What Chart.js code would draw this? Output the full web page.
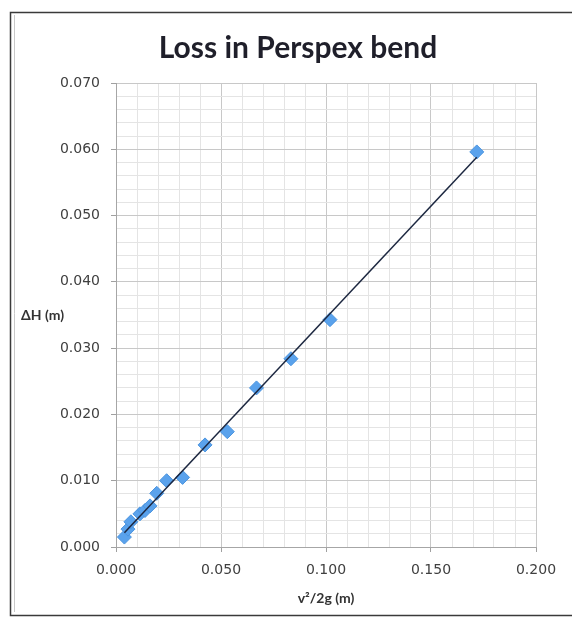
<!DOCTYPE html>
<html>
<head>
<meta charset="utf-8">
<script src="https://cdn.jsdelivr.net/npm/chart.js@4.4.0/dist/chart.umd.min.js"></script>
<style>
  html, body { margin: 0; padding: 0; background: #ffffff; }
  #wrap { width: 572px; height: 617px; position: relative; }
</style>
</head>
<body>
<div id="wrap"><canvas id="c" width="572" height="617"></canvas></div>
<script>
// Measured velocity head v²/2g (m) and head loss ΔH (m) across the bend
const velocityHead = [0.0040, 0.0057, 0.0071, 0.0114, 0.0138, 0.0162, 0.0194, 0.0241, 0.0317, 0.0424, 0.0530, 0.0669, 0.0833, 0.1019, 0.1718];
const headLoss     = [0.0015, 0.0027, 0.0038, 0.0050, 0.0055, 0.0062, 0.0081, 0.0100, 0.0105, 0.0154, 0.0174, 0.0240, 0.0284, 0.0343, 0.0596];

// Axis ranges and labelled tick values
const xTickLabels = [0.000, 0.050, 0.100, 0.150, 0.200];
const yTickLabels = [0.000, 0.010, 0.020, 0.030, 0.040, 0.050, 0.060, 0.070];
const xMinorStep = 0.010;
const yMinorStep = 0.002;

const chartTitle = 'Loss in Perspex bend';
const xTitle = 'v\u00B2/2g (m)';
const yTitle = '\u0394H (m)';

// Least-squares linear trendline over the measured points
function linearFit(xs, ys) {
  const n = xs.length;
  let sx = 0, sy = 0, sxx = 0, sxy = 0;
  for (let i = 0; i < n; i++) {
    sx += xs[i]; sy += ys[i]; sxx += xs[i] * xs[i]; sxy += xs[i] * ys[i];
  }
  const slope = (n * sxy - sx * sy) / (n * sxx - sx * sx);
  const intercept = (sy - slope * sx) / n;
  return { slope, intercept };
}
const fit = linearFit(velocityHead, headLoss);
const xLo = Math.min(...velocityHead), xHi = Math.max(...velocityHead);
const trendPoints = [
  { x: xLo, y: fit.slope * xLo + fit.intercept },
  { x: xHi, y: fit.slope * xHi + fit.intercept }
];

const isLabelled = (v, list) => list.some(t => Math.abs(t - v) < 1e-7);

// Frame, chart title and horizontal y-axis title
const decorations = {
  id: 'decorations',
  beforeDraw(chart) {
    const ctx = chart.ctx;
    ctx.save();
    ctx.fillStyle = '#ffffff';
    ctx.fillRect(0, 0, chart.width, chart.height);
    ctx.strokeStyle = '#3a3a3a';
    ctx.lineWidth = 1.5;
    ctx.strokeRect(10.5, 12.5, 620, 603);
    ctx.strokeStyle = '#c8c8c8';
    ctx.lineWidth = 1;
    ctx.beginPath();
    ctx.moveTo(14.5, 15); ctx.lineTo(14.5, 612);
    ctx.stroke();
    ctx.restore();
  },
  afterDraw(chart) {
    const ctx = chart.ctx;
    ctx.save();
    ctx.fillStyle = '#1f1f2a';
    ctx.font = 'bold 30px Lato';
    ctx.textAlign = 'center';
    ctx.textBaseline = 'middle';
    ctx.fillText(chartTitle, 298, 48);
    ctx.font = 'bold 14px Lato';
    ctx.fillStyle = '#333333';
    ctx.textAlign = 'left';
    ctx.fillText(yTitle, 21, 315);
    ctx.restore();
  }
};

new Chart(document.getElementById('c'), {
  data: {
    datasets: [
      {
        type: 'line',
        data: trendPoints,
        borderColor: '#1c2740',
        borderWidth: 1.5,
        pointRadius: 0,
        fill: false,
        order: 0
      },
      {
        type: 'scatter',
        data: velocityHead.map((x, i) => ({ x, y: headLoss[i] })),
        pointStyle: 'rectRot',
        pointRadius: 7,
        pointHoverRadius: 7,
        backgroundColor: '#5aa2ec',
        borderColor: '#4a94e0',
        borderWidth: 1,
        order: 1
      }
    ]
  },
  options: {
    responsive: false,
    animation: false,
    devicePixelRatio: 1,
    layout: { padding: { top: 83, right: 36, bottom: 0, left: 0 } },
    plugins: {
      legend: { display: false },
      tooltip: { enabled: false },
      title: { display: false }
    },
    scales: {
      x: {
        type: 'linear',
        min: xTickLabels[0],
        max: xTickLabels[xTickLabels.length - 1],
        afterFit(scale) { scale.height = 70; },
        ticks: {
          stepSize: xMinorStep,
          autoSkip: false,
          maxRotation: 0,
          minRotation: 0,
          padding: 10,
          color: '#404040',
          font: { family: 'DejaVu Sans', size: 14 },
          callback: v => isLabelled(v, xTickLabels) ? v.toFixed(3) : ''
        },
        grid: {
          color: c => isLabelled(c.tick.value, xTickLabels) ? '#c8c8c8' : '#e4e4e4',
          tickColor: c => isLabelled(c.tick.value, xTickLabels) ? '#a0a0a0' : 'rgba(0,0,0,0)',
          tickLength: 5,
          lineWidth: 1
        },
        border: { color: '#a6a6a6', width: 1 },
        title: {
          display: true,
          text: xTitle,
          color: '#333333',
          font: { family: 'Lato', size: 14, weight: 'bold' },
          padding: { top: 0, bottom: 10 }
        }
      },
      y: {
        type: 'linear',
        min: yTickLabels[0],
        max: yTickLabels[yTickLabels.length - 1],
        afterFit(scale) { scale.width = 116; },
        ticks: {
          stepSize: yMinorStep,
          autoSkip: false,
          padding: 11,
          color: '#404040',
          font: { family: 'DejaVu Sans', size: 14 },
          callback: v => isLabelled(v, yTickLabels) ? v.toFixed(3) : ''
        },
        grid: {
          color: c => isLabelled(c.tick.value, yTickLabels) ? '#c8c8c8' : '#e4e4e4',
          tickColor: c => isLabelled(c.tick.value, yTickLabels) ? '#a0a0a0' : 'rgba(0,0,0,0)',
          tickLength: 5,
          lineWidth: 1
        },
        border: { color: '#a6a6a6', width: 1 }
      }
    }
  },
  plugins: [decorations]
});
</script>
</body>
</html>
